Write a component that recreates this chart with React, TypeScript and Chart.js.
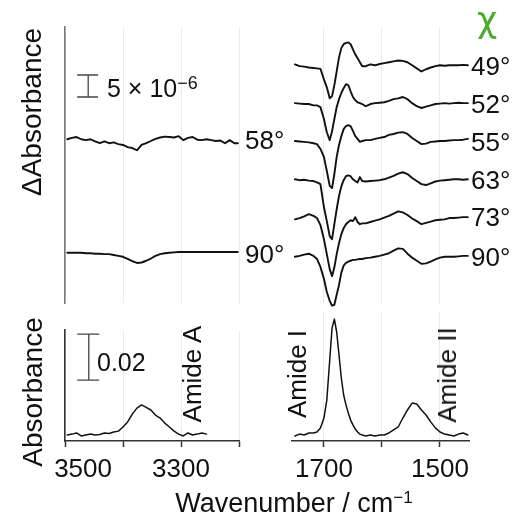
import React, { useEffect, useRef } from "react";
import { Chart, registerables } from "chart.js";

Chart.register(...registerables);

const FONT = '"Liberation Sans", Arimo, Arial, Helvetica, sans-serif';
const W = 516;
const H = 515;
const AXIS_H = 40;
const GRID_COLOR = "#e8eaf6";
const AXIS_COLOR = "#333";
const LINE_COLOR = "#111";

// ---------- data ----------
// wavenumbers (cm^-1)
const wnRight = [1750, 1742, 1734, 1726, 1718, 1712, 1706, 1700, 1695, 1690, 1686, 1682, 1678, 1674, 1670, 1666, 1662, 1658, 1654, 1650, 1646, 1642, 1638, 1634, 1628, 1620, 1612, 1604, 1596, 1588, 1580, 1572, 1564, 1556, 1548, 1540, 1532, 1524, 1516, 1508, 1500, 1492, 1484, 1476, 1468, 1460, 1452];
const wnLeft = [3496, 3488, 3480, 3472, 3464, 3456, 3448, 3440, 3432, 3424, 3416, 3408, 3400, 3392, 3384, 3376, 3368, 3360, 3352, 3344, 3336, 3328, 3320, 3312, 3304, 3296, 3288, 3280, 3272, 3264, 3256, 3248, 3240, 3232, 3224, 3216, 3208, 3202];
const wnAmideA = [3496, 3488, 3480, 3472, 3464, 3456, 3448, 3440, 3432, 3424, 3416, 3408, 3400, 3392, 3384, 3376, 3368, 3360, 3352, 3344, 3336, 3328, 3320, 3312, 3304, 3296, 3288, 3280, 3272, 3264, 3256];

// ΔAbsorbance (×10^-6), amide I / II region, by polarisation angle χ
const dA49 = [0.2, -0.2, -0.3, -0.5, -0.6, -0.7, -0.8, -3.2, -5.0, -7.5, -7.0, -4.5, -1.4, 1.8, 3.9, 4.8, 5.1, 5.2, 4.8, 3.6, 2.5, 1.6, 0.7, -0.2, -0.2, 0.2, 0, 0.3, 0.5, 0.7, 0.9, 1.1, 1.0, 0.7, 0, -0.7, -1.4, -0.9, -0.5, -0.2, 0, -0.1, 0, 0, 0, 0.1, 0];
const dA52 = [0, -0.1, -0.2, -0.2, -0.5, -0.5, -0.9, -3.6, -6.6, -8.4, -6.4, -3.6, -0.9, 0.9, 2.3, 3.4, 4.3, 4.1, 2.7, 1.4, 0.7, 0.2, 0, -0.2, -0.7, -0.2, 0, 0.1, 0.2, 0.5, 0.9, 1.1, 1.4, 0.9, 0, -0.7, -1.1, -0.8, -0.5, -0.2, -0.1, 0, -0.1, 0, 0.1, 0, 0];
const dA55 = [0, -0.1, -0.2, -0.3, -0.5, -0.7, -1.8, -3.6, -6.8, -10.2, -10.7, -7.5, -3.6, -0.9, 1.1, 2.7, 3.4, 3.6, 3.4, 2.3, 1.1, 0.5, -0.2, 0, 0.2, 0.2, 0.5, 0.7, 0.9, 1.4, 1.6, 1.9, 2.0, 1.6, 0.7, 0, -0.7, -0.6, -0.2, -0.1, 0, 0, 0.1, 0.2, 0.2, 0.3, 0.5];
const dA63 = [0.2, 0, 0.1, -0.1, -0.2, -0.5, -0.9, -6.1, -9.3, -12.7, -13.4, -10.0, -6.6, -3.6, -1.4, 0, 0.9, 1.1, 0.9, 0.2, -0.2, -0.5, 0.7, -0.2, -0.3, -0.2, -0.1, 0, 0.2, 0.6, 1.0, 1.5, 1.8, 1.4, 0.5, -0.2, -0.9, -1.1, -0.7, -0.3, -0.1, 0, 0.1, 0.2, 0.2, 0.1, 0.2];
const dA73 = [-0.5, -0.2, 0.2, 0.7, 0.3, -0.2, -1.8, -5.0, -8.4, -11.8, -13.4, -11.4, -8.4, -5.9, -3.9, -2.5, -1.6, -1.1, -0.7, -0.9, 0, -1.1, -1.6, -1.4, -1.4, -1.1, -0.8, -0.5, -0.1, 0.3, 0.8, 1.3, 1.1, 0.5, -0.3, -0.9, -1.6, -1.3, -1.0, -0.7, -0.6, -0.5, -0.2, -0.2, -0.1, 0, 0];
const dA90R = [0, 0.2, 0.5, 0.7, 0.2, -0.5, -2.3, -5.0, -8.0, -10.0, -11.1, -10.9, -8.6, -6.4, -3.6, -2.0, -1.4, -1.1, -0.9, -0.7, -0.7, -0.6, -0.5, -0.5, -0.3, -0.2, 0, 0.2, 0.5, 0.8, 1.4, 1.9, 1.8, 0.7, -0.2, -0.9, -1.6, -1.5, -1.1, -0.6, -0.2, 0, 0, 0, 0.1, 0.2, 0.2];
// ΔAbsorbance (×10^-6), amide A region
const dA58L = [0.2, 0.5, 0.7, 0.2, 0, 0.2, -0.3, -0.7, -0.3, -0.7, -0.5, -0.9, -1.1, -1.6, -1.8, -2.3, -1.1, -0.7, -0.2, 0.3, 0.6, 0.8, 0.7, 0.6, 0.9, 0, 0.5, 0.7, 0.1, 0, 0.2, 0, -0.2, -0.1, -0.7, 0, -0.7, -0.7];
const dA90L = [0, 0, 0, 0, -0.1, -0.1, -0.2, -0.2, -0.3, -0.3, -0.5, -0.7, -0.9, -1.4, -1.9, -2.3, -2.2, -1.8, -1.3, -0.7, -0.3, -0.1, 0, 0.1, 0.2, 0.2, 0.2, 0.2, 0.2, 0.2, 0.2, 0.2, 0.2, 0.2, 0.2, 0.2, 0.2, 0.2];

// vertical stacking offsets (×10^-6)
const rightSeries = [dA49, dA52, dA55, dA63, dA73, dA90R];
const rightOffsets = [54, 45.4, 36.8, 27.9, 19.5, 10.5];
const rightAngleLabels = ["49°", "52°", "55°", "63°", "73°", "90°"];
const leftSeries = [dA58L, dA90L];
const leftOffsets = [37.0, 11.4];
const leftAngleLabels = ["58°", "90°"];

// Absorbance
const absAmideA = [0.0026, 0.0030, 0.0035, 0.0022, 0.0026, 0.0030, 0.0026, 0.0028, 0.0035, 0.0033, 0.0039, 0.0043, 0.0061, 0.0083, 0.0117, 0.0143, 0.0157, 0.0146, 0.0135, 0.0113, 0.0100, 0.0078, 0.0061, 0.0043, 0.0030, 0.0022, 0.0035, 0.0026, 0.0030, 0.0035, 0.0030];
const absAmideI = [0.0022, 0.0030, 0.0026, 0.0035, 0.0035, 0.0039, 0.0057, 0.0100, 0.0178, 0.0352, 0.0491, 0.0530, 0.0474, 0.0374, 0.0274, 0.0200, 0.0157, 0.0122, 0.0091, 0.0070, 0.0052, 0.0039, 0.0030, 0.0026, 0.0022, 0.0026, 0.0022, 0.0026, 0.0026, 0.0035, 0.0048, 0.0061, 0.0100, 0.0135, 0.0165, 0.0161, 0.0135, 0.0113, 0.0083, 0.0057, 0.0039, 0.0030, 0.0026, 0.0022, 0.0030, 0.0035, 0.0026];

// axis ticks
const leftTicks = [3500, 3400, 3300, 3200];
const leftTickLabels = ["3500", "", "3300", ""];
const rightTicks = [1700, 1600, 1500];
const rightTickLabels = ["1700", "", "1500"];

// scale bars (data units)
const upperBar = { wn: 3460, capFrom: 3479, capTo: 3443, base: 46.8, size: 5 };
const lowerBar = { wn: 3459, capFrom: 3479, capTo: 3441, base: 0.0265, size: 0.02 };

// axis ranges
const LEFT_RANGE = [3200, 3500];
const RIGHT_RANGE = [1450, 1755];
const UPPER_Y = [0, 62.7];
const LL_Y = [0, 0.0483];
const LR_Y = [0, 0.0561];

// ---------- helpers ----------
function lineDS(xs: number[], ys: number[], offset: number, width: number) {
  return {
    data: xs.map((x, i) => ({ x, y: ys[i] + offset })),
    borderColor: LINE_COLOR,
    borderWidth: width,
    pointRadius: 0,
    tension: 0,
    fill: false,
    clip: false as any,
    borderJoinStyle: "round" as const,
    borderCapStyle: "round" as const,
  };
}

function barDS(bar: { wn: number; capFrom: number; capTo: number; base: number; size: number }) {
  const top = bar.base + bar.size;
  return {
    data: [
      { x: bar.capFrom, y: bar.base },
      { x: bar.capTo, y: bar.base },
      { x: bar.capTo, y: null },
      { x: bar.wn, y: bar.base },
      { x: bar.wn, y: top },
      { x: bar.wn, y: null },
      { x: bar.capFrom, y: top },
      { x: bar.capTo, y: top },
    ],
    borderColor: "#444",
    borderWidth: 1.3,
    pointRadius: 0,
    tension: 0,
    spanGaps: false,
    clip: false as any,
  };
}

type Area = { l: number; t: number; r: number; b: number };

function makeChart(
  canvas: HTMLCanvasElement,
  area: Area,
  xr: number[],
  yr: number[],
  datasets: any[],
  opts: { ticks: number[]; labels?: string[]; yBorder?: string; shiftFirst?: boolean }
) {
  const withAxis = !!opts.labels;
  return new Chart(canvas, {
    type: "line",
    data: { datasets },
    options: {
      responsive: false,
      animation: false,
      events: [],
      layout: {
        padding: {
          left: area.l,
          right: W - area.r,
          top: area.t,
          bottom: withAxis ? H - area.b - AXIS_H : H - area.b,
        },
      },
      plugins: { legend: { display: false }, tooltip: { enabled: false } },
      scales: {
        x: {
          type: "linear",
          min: xr[0],
          max: xr[1],
          reverse: true,
          afterBuildTicks: (s: any) => {
            s.ticks = opts.ticks.map((v) => ({ value: v }));
          },
          afterFit: (s: any) => {
            s.height = withAxis ? AXIS_H : 0;
          },
          grid: {
            display: true,
            drawOnChartArea: true,
            color: GRID_COLOR,
            lineWidth: 1,
            drawTicks: withAxis,
            tickLength: 6,
            tickColor: AXIS_COLOR,
            tickWidth: 1.5,
          },
          border: { display: withAxis, color: AXIS_COLOR, width: 1.5 },
          ticks: {
            display: withAxis,
            autoSkip: false,
            maxRotation: 0,
            padding: 7,
            color: "#111",
            font: { family: FONT, size: 26 },
            callback: (_v: any, i: number) => {
              const lab = opts.labels ? opts.labels[i] : "";
              return opts.shiftFirst && i === 0 && lab ? "\u00a0\u00a0\u00a0\u00a0\u00a0" + lab : lab;
            },
          },
        },
        y: {
          type: "linear",
          min: yr[0],
          max: yr[1],
          display: !!opts.yBorder,
          afterFit: (s: any) => {
            s.width = 0;
          },
          grid: { display: false, drawTicks: false },
          ticks: { display: false },
          border: { display: !!opts.yBorder, color: opts.yBorder || AXIS_COLOR, width: 1.6 },
        },
      },
    } as any,
  });
}

// ---------- labels ----------
const txt: React.CSSProperties = { position: "absolute", whiteSpace: "nowrap", lineHeight: 1 };

function Label(props: { x: number; y: number; size: number; children: React.ReactNode; rotate?: boolean; align?: "left" | "center"; color?: string }) {
  const { x, y, size, rotate, align = "left", color = "#111" } = props;
  const tr = rotate
    ? "translate(-50%,-50%) rotate(-90deg)"
    : align === "center"
    ? "translate(-50%,-50%)"
    : "translateY(-50%)";
  return (
    <div style={{ ...txt, left: x, top: y, fontSize: size, transform: tr, color }}>{props.children}</div>
  );
}

export default function App() {
  const ul = useRef<HTMLCanvasElement>(null);
  const ur = useRef<HTMLCanvasElement>(null);
  const ll = useRef<HTMLCanvasElement>(null);
  const lr = useRef<HTMLCanvasElement>(null);

  useEffect(() => {
    Chart.defaults.font.family = FONT;
    const charts = [
      makeChart(
        ul.current!,
        { l: 65, t: 27, r: 239, b: 303 },
        LEFT_RANGE,
        UPPER_Y,
        [...leftSeries.map((s, i) => lineDS(wnLeft, s, leftOffsets[i], 1.9)), barDS(upperBar)],
        { ticks: leftTicks, yBorder: "#777" }
      ),
      makeChart(
        ur.current!,
        { l: 292, t: 27, r: 469, b: 303 },
        RIGHT_RANGE,
        UPPER_Y,
        rightSeries.map((s, i) => lineDS(wnRight, s, rightOffsets[i], 1.9)),
        { ticks: rightTicks }
      ),
      makeChart(
        ll.current!,
        { l: 65, t: 330, r: 239, b: 441 },
        LEFT_RANGE,
        LL_Y,
        [lineDS(wnAmideA, absAmideA, 0, 1.5), barDS(lowerBar)],
        { ticks: leftTicks, labels: leftTickLabels, yBorder: AXIS_COLOR, shiftFirst: true }
      ),
      makeChart(
        lr.current!,
        { l: 292, t: 312, r: 469, b: 441 },
        RIGHT_RANGE,
        LR_Y,
        [lineDS(wnRight, absAmideI, 0, 1.5)],
        { ticks: rightTicks, labels: rightTickLabels }
      ),
    ];
    return () => charts.forEach((c) => c.destroy());
  }, []);

  const cv: React.CSSProperties = { position: "absolute", left: 0, top: 0, width: W, height: H };
  const rightLabelY = [66, 104, 142, 180, 217, 257];
  const leftLabelY = [140, 254];

  return (
    <div
      style={{
        position: "absolute",
        left: 0,
        top: 0,
        width: W,
        height: H,
        overflow: "hidden",
        background: "#fff",
        fontFamily: FONT,
        color: "#111",
      }}
    >
      <canvas ref={ul} width={W} height={H} style={cv} />
      <canvas ref={ur} width={W} height={H} style={cv} />
      <canvas ref={ll} width={W} height={H} style={cv} />
      <canvas ref={lr} width={W} height={H} style={cv} />

      <Label x={32} y={112} size={28} rotate>
        ΔAbsorbance
      </Label>
      <Label x={33} y={392} size={28} rotate>
        Absorbance
      </Label>
      <Label x={294} y={503} size={27} align="center">
        Wavenumber / cm
        <span style={{ fontSize: 17, position: "relative", top: -9 }}>−1</span>
      </Label>

      <Label x={107} y={88} size={25}>
        5 × 10
        <span style={{ fontSize: 18, position: "relative", top: -8 }}>−6</span>
      </Label>
      <Label x={97} y={362} size={25}>
        0.02
      </Label>

      {leftAngleLabels.map((t, i) => (
        <Label key={"l" + i} x={245} y={leftLabelY[i]} size={26}>
          {t}
        </Label>
      ))}
      {rightAngleLabels.map((t, i) => (
        <Label key={"r" + i} x={471} y={rightLabelY[i]} size={26}>
          {t}
        </Label>
      ))}
      <div style={{ ...txt, left: 477, top: 3, fontSize: 35, color: "#4dab2f", fontFamily: '"DejaVu Sans", sans-serif' }}>χ</div>

      <Label x={192} y={374} size={26} rotate>
        Amide A
      </Label>
      <Label x={297} y={374} size={26} rotate>
        Amide I
      </Label>
      <Label x={447} y={375} size={26} rotate>
        Amide II
      </Label>
    </div>
  );
}
